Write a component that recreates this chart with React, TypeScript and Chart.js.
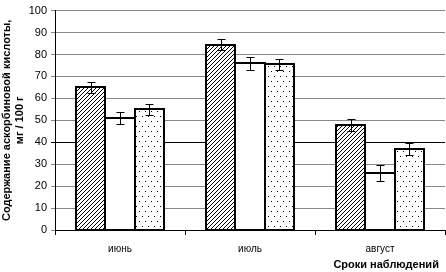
import React, { useEffect, useRef } from "react";
import { Chart, registerables } from "chart.js";

Chart.register(...registerables);

const categories = ["июнь", "июль", "август"];
const seriesA = [65, 84.5, 48];
const seriesB = [51, 76, 26];
const seriesC = [55, 75.5, 37];
const errA = [2.5, 2.5, 2.7];
const errB = [2.7, 3, 3.7];
const errC = [2.5, 2.5, 2.7];
const yTicksMax = 100;
const yStep = 10;
const yTitle = ["Содержание аскорбиновой кислоты,", "мг / 100 г"];
const xTitle = "Сроки наблюдений";

function hatchPattern(): CanvasPattern | string {
  const n = 4;
  const c = document.createElement("canvas");
  c.width = n;
  c.height = n;
  const g = c.getContext("2d")!;
  g.fillStyle = "#fff";
  g.fillRect(0, 0, n, n);
  g.strokeStyle = "#000";
  g.lineWidth = 1;
  g.beginPath();
  g.moveTo(0, n);
  g.lineTo(n, 0);
  g.moveTo(-1, 1);
  g.lineTo(1, -1);
  g.moveTo(n - 1, n + 1);
  g.lineTo(n + 1, n - 1);
  g.stroke();
  const ctx = document.createElement("canvas").getContext("2d")!;
  return ctx.createPattern(c, "repeat") || "#fff";
}

function dotPattern(): CanvasPattern | string {
  const c = document.createElement("canvas");
  c.width = 6;
  c.height = 10;
  const g = c.getContext("2d")!;
  g.fillStyle = "#fff";
  g.fillRect(0, 0, 6, 10);
  g.fillStyle = "#000";
  g.fillRect(1, 1, 1, 1);
  g.fillRect(4, 6, 1, 1);
  const ctx = document.createElement("canvas").getContext("2d")!;
  return ctx.createPattern(c, "repeat") || "#fff";
}

const errorBars = {
  id: "errorBars",
  afterDatasetsDraw(chart: any) {
    const ctx = chart.ctx;
    const y = chart.scales.y;
    chart.data.datasets.forEach((ds: any, i: number) => {
      const meta = chart.getDatasetMeta(i);
      meta.data.forEach((bar: any) => {
        const left = Math.round(bar.x - bar.width / 2);
        const right = Math.round(bar.x + bar.width / 2);
        const topB = Math.round(bar.y);
        const base = Math.round(bar.base);
        ctx.save();
        ctx.strokeStyle = "#000";
        ctx.lineWidth = 2;
        ctx.strokeRect(left, topB, right - left, base - topB);
        ctx.restore();
      });
    });
    chart.data.datasets.forEach((ds: any, i: number) => {
      const meta = chart.getDatasetMeta(i);
      meta.data.forEach((bar: any, j: number) => {
        const v = ds.data[j];
        const e = ds.errors[j];
        const top = Math.round(y.getPixelForValue(v + e)) + 0.5;
        const bot = Math.round(y.getPixelForValue(v - e)) + 0.5;
        const x = Math.round(bar.x) + 0.5;
        ctx.save();
        ctx.strokeStyle = "#000";
        ctx.lineWidth = 1;
        ctx.beginPath();
        ctx.moveTo(x, top);
        ctx.lineTo(x, bot);
        ctx.moveTo(x - 4, top);
        ctx.lineTo(x + 4, top);
        ctx.moveTo(x - 4, bot);
        ctx.lineTo(x + 4, bot);
        ctx.stroke();
        ctx.restore();
      });
    });
  },
};

export default function App() {
  const ref = useRef<HTMLCanvasElement>(null);
  useEffect(() => {
    document.body.style.margin = "0";
    const font = "'Liberation Sans', Arial, sans-serif";
    const chart = new Chart(ref.current!, {
      type: "bar",
      data: {
        labels: categories,
        datasets: [
          { data: seriesA, errors: errA, backgroundColor: hatchPattern() },
          { data: seriesB, errors: errB, backgroundColor: "#fff" },
          { data: seriesC, errors: errC, backgroundColor: dotPattern() },
        ].map((d: any) => ({
          ...d,
          borderWidth: 0,
          categoryPercentage: 0.67,
          barPercentage: 1,
        })),
      },
      options: {
        animation: false,
        responsive: false,
        maintainAspectRatio: false,
        layout: { padding: { top: 0, right: 1, left: 0, bottom: 0 } },
        plugins: { legend: { display: false }, tooltip: { enabled: false } },
        scales: {
          x: {
            offset: true,
            afterFit: (s: any) => {
              s.height = 42;
            },
            grid: {
              offset: true,
              drawOnChartArea: false,
              drawTicks: true,
              tickLength: 5,
              color: "#000",
            },
            border: { color: "#000", width: 1 },
            ticks: {
              color: "#000",
              font: { family: font, size: 10 },
              padding: 8,
            },
            title: {
              display: true,
              text: xTitle + "  ",
              align: "end",
              color: "#000",
              font: { family: font, size: 11, weight: "bold" },
              padding: { top: 4, bottom: 0 },
            },
          },
          y: {
            min: 0,
            max: yTicksMax,
            afterFit: (s: any) => {
              s.width = 55;
            },
            ticks: {
              stepSize: yStep,
              color: "#000",
              font: { family: font, size: 11 },
              padding: 4,
            },
            grid: {
              color: (c: any) => (c.tick && c.tick.value === 40 ? "#000" : "#888"),
              tickLength: 4,
            },
            border: { color: "#000", width: 1 },
            title: {
              display: true,
              text: yTitle,
              color: "#000",
              font: { family: font, size: 11, weight: "bold" },
              padding: { top: 0, bottom: 2 },
            },
          },
        },
      },
      plugins: [errorBars],
    } as any);
    return () => chart.destroy();
  }, []);
  return (
    <div style={{ position: "absolute", left: 0, top: 0, width: 446, height: 272 }}>
      <canvas ref={ref} width={446} height={272} style={{ width: 446, height: 272 }} />
    </div>
  );
}
